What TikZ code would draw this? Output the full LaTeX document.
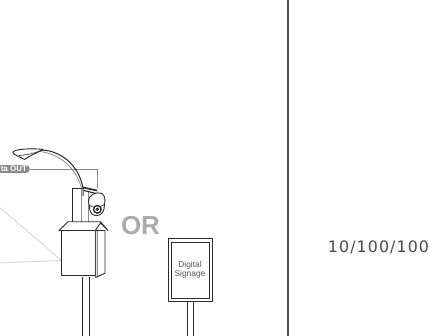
\documentclass[tikz,border=0pt]{standalone}
\usepackage{fontspec}
\setmainfont{Liberation Sans}
\newfontfamily\dejavu[LetterSpace=7]{DejaVu Sans}
\definecolor{ink}{HTML}{2B2B2B}
\definecolor{mid}{HTML}{8C8C8C}
\definecolor{pale}{HTML}{D9D9D9}
\definecolor{orgray}{HTML}{ABABAB}
\tikzset{
  ln/.style={draw=ink,line width=0.9pt,line join=round},
  hair/.style={draw=ink,line width=0.6pt,line join=round},
  txt/.style={inner sep=0pt,outer sep=0pt},
}
\begin{document}
\begin{tikzpicture}[x=1pt,y=-1pt]
\useasboundingbox (0,0) rectangle (429,336);
\clip (0,0) rectangle (429,336);
% divider
\draw[draw=ink!85!white,line width=1.7pt] (287.7,0) -- (287.7,336);
\node[txt,anchor=base east,text=ink!85!white,font=\dejavu\fontsize{15.8}{18}\selectfont] (speed) at (429,252.5) {10/100/100};
% coverage lines
\draw[pale,line width=1pt] (-2,206) -- (61.5,260.5) -- (-2,263);
% data line
\draw[mid,line width=1pt] (25,169.5) -- (97.5,169.5) -- (97.5,188);
\fill[mid,rounded corners=3pt] (-10,165.2) rectangle (29.5,172.8);
\node[txt,anchor=east,text=white,font=\bfseries\fontsize{8}{9}\selectfont] (dataout) at (27,169) {ta OUT};
% lamp arm
\draw[ink,line width=1pt] (42,150) .. controls (62,151) and (79,166) .. (83,188) -- (83,196);
\draw[mid,line width=0.8pt] (40,151.5) .. controls (60,154) and (76,168) .. (81.5,188) -- (81.5,222);
\draw[mid,line width=0.8pt] (88,192) -- (88,222);
\draw[ln,fill=white] (43,149.5) .. controls (32,148) and (15,149) .. (12.8,152) .. controls (13,155) and (19,156) .. (24.5,159.5) .. controls (30,155.5) and (37,153) .. (43,149.5) -- cycle;
\draw[hair] (19,155.5) .. controls (27,155) and (36,153) .. (43,149.5);
% post
\draw[ln] (72.7,222) -- (72.7,188.3) -- (84,188.3);
% bracket
\draw[ink,line width=1.7pt] (83,187.5) -- (97,190.5);
\draw[ink,line width=1.1pt] (84,190.5) -- (96,193.5);
% camera
\draw[ln,fill=white] (88.5,201) .. controls (89,194) and (97,191.5) .. (102,193.5) .. controls (105,196) and (105.5,200) .. (104.5,204) -- (103,207) -- (89.5,207) -- cycle;
\draw[ln,fill=white] (89.5,206) .. controls (89.5,215) and (94,215.5) .. (97,215.5) .. controls (101,215.5) and (104.5,212) .. (104.5,205);
\draw[hair] (89.5,205.5) .. controls (93,208) and (100,208) .. (104.5,204.5);
\draw[ink,fill=ink] (97.3,209.3) circle (4.3pt);
\draw[white,fill=white] (97.3,209.3) circle (2.6pt);
\draw[ink,fill=ink] (97.3,209.3) circle (1.5pt);
% cabinet
\draw[ln,fill=white] (59,230.5) -- (68,221.8) -- (100.5,221.8) -- (108,230.5) -- (100.5,223) -- (95.3,230.5) -- cycle;
\draw[ln,fill=white] (61.7,230.5) rectangle (95.7,275.8);
\draw[ln,fill=white] (95.7,230.5) -- (105,230.5) -- (105,273.2) -- (95.7,277.5) -- cycle;
\draw[mid,line width=0.8pt] (97,231) -- (97,276.5);
% cabinet pole
\draw[ln] (82.5,277) -- (82.5,336) (89.3,277) -- (89.3,336);
% OR
\node[txt,anchor=base,text=orgray,font=\bfseries\fontsize{26}{28}\selectfont] (orword) at (140.5,234.5) {OR};
% signage
\draw[ln,fill=white] (168.5,238.3) rectangle (212.3,301.7);
\draw[ln,fill=white] (171.7,242.3) rectangle (209.3,298.3);
\node[txt,align=center,text=ink!80!white,font=\fontsize{8.4}{9.2}\selectfont] (sign) at (190,269.5) {Digital\\Signage};
\draw[ln] (187.8,301.7) -- (187.8,336) (193.3,301.7) -- (193.3,336);
\end{tikzpicture}
\end{document}
